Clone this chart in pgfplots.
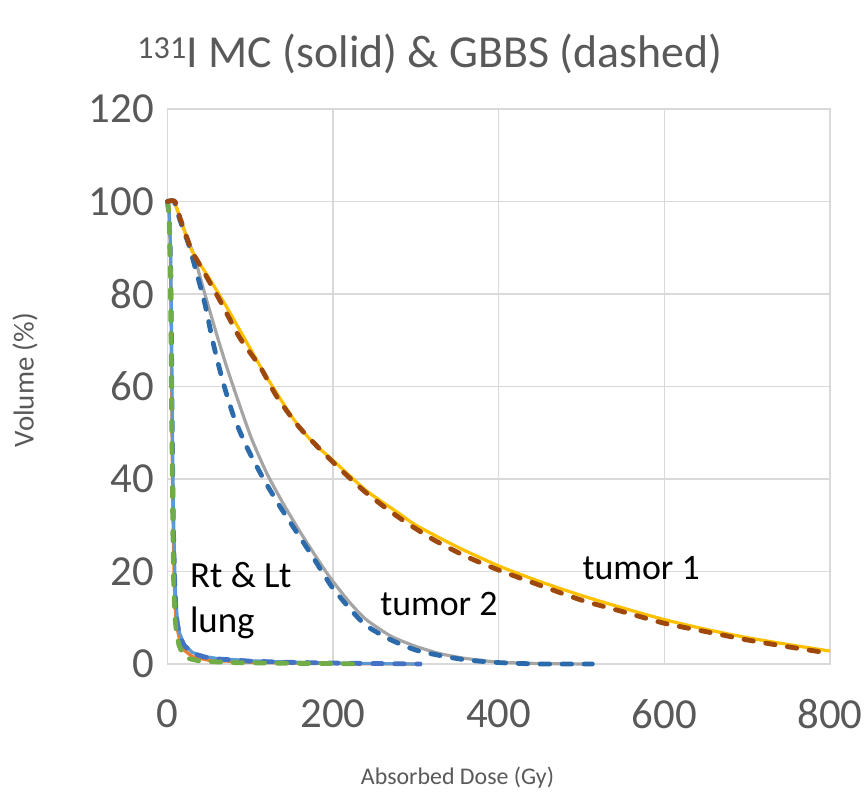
\documentclass[border=0pt]{standalone}
\usepackage{fontspec}
\setmainfont{Carlito}
\usepackage{pgfplots}
\pgfplotsset{compat=1.18}
\definecolor{gridc}{HTML}{D9D9D9}
\definecolor{tickc}{HTML}{595959}
\definecolor{corange}{HTML}{ED7D31}
\definecolor{clblue}{HTML}{5B9BD5}
\definecolor{cgray}{HTML}{A5A5A5}
\definecolor{cgold}{HTML}{FFC000}
\definecolor{cblue}{HTML}{4472C4}
\definecolor{cgreen}{HTML}{70AD47}
\definecolor{ctblue}{HTML}{2B6AAB}
\definecolor{cbrown}{HTML}{9E480E}
\begin{document}
\begin{tikzpicture}[x=1bp,y=1bp]
\begin{axis}[
  at={(0,0)}, anchor=south west,
  width=662.5bp, height=555bp, scale only axis,
  xmin=0, xmax=800, ymin=0, ymax=120,
  xtick={0,200,...,800}, ytick={0,20,...,120},
  grid=major, major grid style={draw=gridc, line width=1.3bp},
  axis line style={draw=gridc, line width=1.3bp},
  major tick length=0pt,
  tick label style={font=\fontsize{43}{50}\selectfont, text=tickc},
  /pgf/number format/assume math mode=true,
  xticklabel style={yshift=-32bp},
  yticklabel style={xshift=-10bp},
  clip=false,
  solidl/.style={line width=3.2bp, line join=round},
  dashl/.style={line width=4.8bp, line cap=round, line join=round, dash pattern=on 9.5bp off 12.5bp},
]
% Rt lung MC
\addplot[solidl, corange] coordinates {(0,100)(2,98)(3.5,90)(4.5,70)(5.5,50)(6.5,33)(7.8,20)(9,13)(10.5,9)(13,6.5)(16,4.2)(20,3)(30,1.6)(50,0.8)(100,0.4)(150,0.2)(200,0.1)(250,0.05)(300,0)};
% Lt lung MC
\addplot[solidl, clblue] coordinates {(0,100)(2,98)(4,88)(5,70)(6,50)(7,35)(8.5,22)(10,14)(12,9.5)(15,6.5)(20,4.3)(30,2.5)(45,1.6)(60,1.2)(100,0.7)(150,0.4)(200,0.2)(250,0.1)(305,0)};
% tumor 2 MC
\addplot[solidl, cgray, smooth, tension=0.4] coordinates {(0,100)(8,100)(15,96.5)(25,91.5)(32,88.4)(43.5,81)(59,71.5)(71,64.5)(87,56)(102,48.5)(120,41.2)(140,34.6)(160,28.6)(180,23)(190,20.3)(200,17.8)(220,13.3)(240,9.6)(270,6)(300,3.8)(330,2.2)(360,1.2)(400,0.4)(450,0.1)(510,0)};
% tumor 1 MC
\addplot[solidl, cgold, smooth, tension=0.4] coordinates {(0,100)(8,100)(15,96.5)(29,89.5)(50,83.5)(71,77.3)(91,71)(110,65)(124,60.8)(152,53)(175,48)(200,44)(240,37.5)(280,32.5)(300,30)(350,25.3)(400,21.2)(450,17.8)(500,14.8)(550,12.1)(600,9.6)(650,7.5)(700,5.7)(750,4.2)(800,2.8)};
% Lt lung GBBS
\addplot[dashl, cblue] coordinates {(0,100)(2,97)(4,85)(5,65)(6,45)(7,30)(8.5,19)(10,12)(12,8.5)(15,6)(20,4)(30,2.3)(45,1.5)(60,1.1)(100,0.6)(150,0.35)(200,0.2)(250,0.1)(305,0)};
% Rt lung GBBS
\addplot[dashl, cgreen] coordinates {(0,100)(2,97)(3.5,85)(4.5,65)(5.5,45)(6.5,28)(7.5,17)(9,10)(11,6.5)(14,4)(18,2.3)(25,1.2)(40,0.6)(80,0.3)(150,0.15)(200,0.1)(236,0)};
% tumor 2 GBBS
\addplot[dashl, ctblue, smooth, tension=0.4] coordinates {(0,100)(8,100)(15,96)(25,91)(33,86)(45,78)(55,69.5)(67,61)(80,53.5)(96,46.8)(116,40)(136,34)(156,28.5)(176,23)(190,19)(200,16.3)(220,12)(240,8.3)(270,5.2)(300,3)(330,1.8)(360,0.9)(400,0.3)(450,0)(513,0)};
% tumor 1 GBBS
\addplot[dashl, cbrown, smooth, tension=0.4] coordinates {(0,100)(9,100)(15,96.5)(29,89.5)(40,86)(63,78.7)(87,70.6)(112,64.2)(132,57.8)(160,51)(200,43.6)(240,37)(280,31.6)(320,27)(360,23.3)(400,20.3)(450,17)(500,13.8)(550,11.3)(600,8.8)(650,7)(700,5.2)(750,3.7)(800,2.3)};
\node[font=\fontsize{36}{40}\selectfont] at (axis cs:572,20.8) {tumor 1};
\node[font=\fontsize{36}{40}\selectfont] at (axis cs:327.7,13) {tumor 2};
\node[font=\fontsize{37}{40}\selectfont, anchor=west, inner sep=0pt] at (axis cs:27,19.2) {Rt \& Lt};
\node[font=\fontsize{37}{40}\selectfont, anchor=west, inner sep=0pt] at (axis cs:27,8.8) {lung};
\end{axis}
\node[font=\fontsize{46}{50}\selectfont, text=tickc, anchor=base] at (430-167.5,596) {\textsuperscript{131}I MC (solid) \& GBBS (dashed)};
\node[font=\fontsize{29}{32}\selectfont, text=tickc, rotate=90] at (-142.5,284) {Volume (\%)};
\node[font=\fontsize{24}{28}\selectfont, text=tickc] at (290,-114) {Absorbed Dose (Gy)};
\pgfresetboundingbox
\path[use as bounding box] (-167.5,-137) rectangle (700.5,664);
\end{tikzpicture}
\end{document}
